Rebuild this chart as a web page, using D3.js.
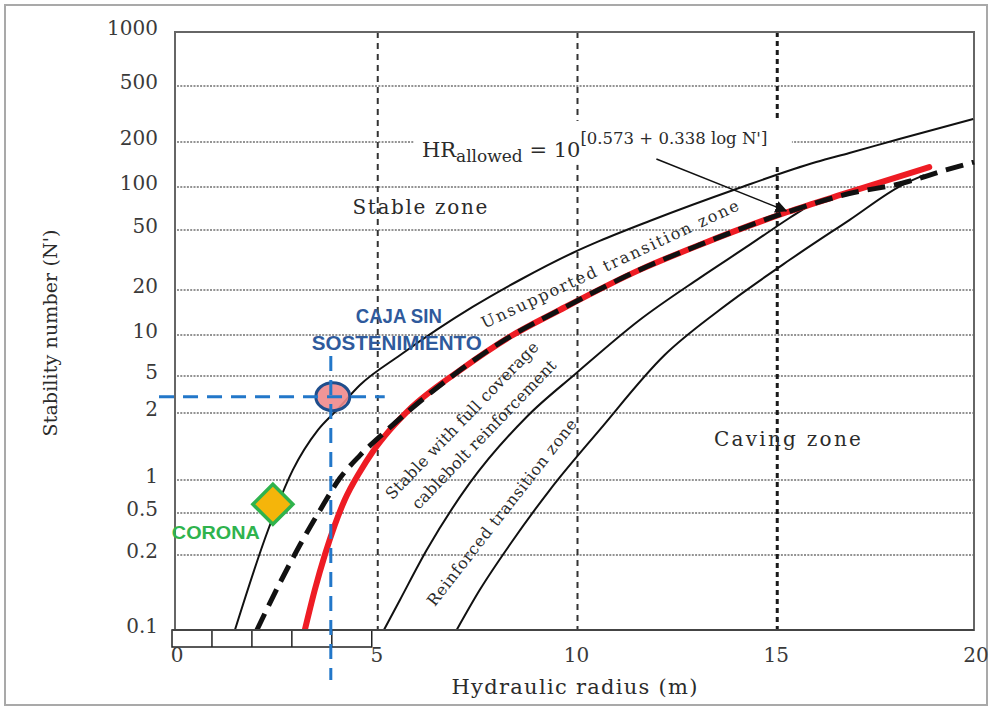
<!DOCTYPE html>
<html>
<head>
<meta charset="utf-8">
<script src="https://cdn.jsdelivr.net/npm/d3@7/dist/d3.min.js"></script>
<style>
html,body{margin:0;padding:0;background:#fff;}
svg{display:block;}
text{font-family:"DejaVu Serif",serif;fill:#2b2b2b;}
</style>
</head>
<body>
<svg id="chart" width="992" height="711"></svg>
<script>
// ================= DATA =================
const yTickValues = [0.1, 0.2, 0.5, 1, 2, 5, 10, 20, 50, 100, 200, 500, 1000];
const yTickLabels = ["0.1", "0.2", "0.5", "1", "2", "5", "10", "20", "50", "100", "200", "500", "1000"];
const xTickValues = [0, 5, 10, 15, 20];
const xTickLabels = ["0", "5", "10", "15", "20"];
const xZoneLines = [5, 10, 15];
const rulerMarks = [0, 1, 2, 3, 4, 5];

// upper limit of the unsupported transition zone
const upperHR = [1.5, 2.33, 2.95, 3.58, 4.05, 4.63, 5.63, 7.45, 8.63, 9.95, 10.63, 11.88, 14.05, 16.05, 16.88, 18.13, 19.98];
const upperN  = [0.1, 0.345, 1.11, 1.68, 2.15, 4.0, 7.1, 15.4, 23.3, 35.2, 42.3, 57.8, 96.8, 147, 169, 210, 291];
// HR allowed curve (black dashed)
const allowedHR = [2.05, 2.63, 3.13, 3.63, 4.13, 4.63, 5.25, 5.85, 7.13, 8.38, 9.63, 11.63, 13.13, 15.33, 16.88, 18.2, 19.3, 20];
const allowedN  = [0.1, 0.155, 0.25, 0.53, 1.02, 1.29, 1.64, 2.1, 5.5, 9.7, 14.7, 27.2, 39.8, 66.8, 90, 106, 130, 147];
// red curve
const redHR = [3.25, 3.5, 3.75, 4.0, 4.25, 4.63, 4.95, 5.38, 5.85, 7.13, 8.38, 9.63, 11.63, 13.13, 15.33, 16.88, 18.88];
const redN  = [0.1, 0.145, 0.2, 0.385, 0.66, 1.09, 1.34, 1.68, 2.15, 5.5, 9.7, 14.7, 27.2, 39.8, 66.8, 92, 136];
// lower limit of stable with cablebolt reinforcement
const cableHR = [5.23, 5.63, 6.3, 7.38, 8.8, 10.05, 11.63, 13.13, 14.38, 15.38, 15.9];
const cableN  = [0.1, 0.132, 0.223, 0.94, 1.92, 5.26, 12.6, 24, 39.8, 60.7, 75];
// lower limit of reinforced transition zone
const reinfHR = [7.05, 7.63, 8.38, 9.38, 10.63, 12.25, 13.63, 15.38, 16.88, 18.2, 18.75];
const reinfN  = [0.1, 0.145, 0.25, 0.81, 1.68, 7.1, 14.7, 31.6, 58.7, 103, 120];

// case points
const cajaHR = 3.9, cajaN = 3;
const coronaHR = 2.45, coronaN = 0.6;
const guideHRExtent = [-0.4, 5.25];   // horizontal blue guide
const guideNTop = 7;                  // vertical blue guide top

// annotations [label, HR, N, angle, textLength]
const zoneLabels = [
  ["Stable zone", 6.13, 71, 0, 135],
  ["Caving zone", 15.33, 1.51, 0, 147],
  ["Unsupported transition zone", 10.9, 29.3, -25, 282],
  ["Stable with full coverage", 7.2, 1.84, -46, 212],
  ["cablebolt reinforcement", 7.75, 1.59, -46, 200],
  ["Reinforced transition zone", 8.2, 0.5, -52, 232]
];
const formulaHR = 6.18, formulaN = 159;
const arrowFrom = [12.05, 154], arrowTo = [15.3, 68];

// ================= LAYOUT =================
const M = {left: 175, right: 974, top: 32, bottom: 630};
// the scanned axis is not perfectly logarithmic: rows of the printed ticks
const yRows = [630, 555, 513, 480, 413, 376, 335, 290, 230, 187, 142, 86, 32];

const svg = d3.select("#chart");
const x = d3.scaleLinear().domain([0, 20]).range([M.left, M.right]);
const y = d3.scaleLog().domain(yTickValues).range(yRows);

// outer frame
svg.append("rect").attr("x", 5).attr("y", 5).attr("width", 982).attr("height", 700)
  .attr("fill", "#fff").attr("stroke", "#a9a9a9").attr("stroke-width", 2);

// horizontal grid
svg.append("g").selectAll("line")
  .data(yTickValues.filter(v => v > 0.1 && v < 1000))
  .join("line")
  .attr("x1", M.left + 2).attr("x2", M.right)
  .attr("y1", d => y(d)).attr("y2", d => y(d))
  .attr("stroke", "#707070").attr("stroke-width", 1.7)
  .attr("stroke-dasharray", "2,1.3");

// vertical zone lines
svg.append("g").selectAll("line")
  .data(xZoneLines)
  .join("line")
  .attr("x1", d => x(d) + 3).attr("x2", d => x(d) + 3)
  .attr("y1", M.top).attr("y2", M.bottom)
  .attr("stroke", d => d === 15 ? "#1a1a1a" : "#333")
  .attr("stroke-width", d => d === 15 ? 3 : 2)
  .attr("stroke-dasharray", d => d === 15 ? "5,4" : "6,5");

// plot frame
svg.append("rect").attr("x", M.left).attr("y", M.top)
  .attr("width", M.right - M.left).attr("height", M.bottom - M.top)
  .attr("fill", "none").attr("stroke", "#666").attr("stroke-width", 2);

// formula background (hides grid behind it)
svg.append("rect").attr("x", x(formulaHR) - 8).attr("y", y(formulaN) - 36)
  .attr("width", 378).attr("height", 44).attr("fill", "#fff");

// curves
const line = d3.line().x(d => x(d[0])).y(d => y(d[1])).curve(d3.curveMonotoneX);
const zip = (a, b) => a.map((v, i) => [v, b[i]]);

const g = svg.append("g").attr("fill", "none");
g.append("path").attr("d", line(zip(upperHR, upperN))).attr("stroke", "#111").attr("stroke-width", 2);
g.append("path").attr("d", line(zip(cableHR, cableN))).attr("stroke", "#111").attr("stroke-width", 2);
g.append("path").attr("d", line(zip(reinfHR, reinfN))).attr("stroke", "#111").attr("stroke-width", 2);
g.append("path").attr("d", line(zip(redHR, redN))).attr("stroke", "#ee1c24").attr("stroke-width", 6)
  .attr("stroke-linecap", "round");
g.append("path").attr("d", line(zip(allowedHR, allowedN))).attr("stroke", "#111").attr("stroke-width", 5)
  .attr("stroke-dasharray", "18,9");

// ruler under the axis
const rulerH = 17;
svg.append("rect").attr("x", x(0) - 3).attr("y", M.bottom)
  .attr("width", x(5) - x(0)).attr("height", rulerH)
  .attr("fill", "#fff").attr("stroke", "#222").attr("stroke-width", 1.5);
svg.append("g").selectAll("line").data(rulerMarks.slice(1, -1)).join("line")
  .attr("x1", d => x(d) - 3).attr("x2", d => x(d) - 3)
  .attr("y1", M.bottom).attr("y2", M.bottom + rulerH)
  .attr("stroke", "#222").attr("stroke-width", 1.5);
svg.append("line").attr("x1", x(0) - 3).attr("x2", M.right).attr("y1", M.bottom).attr("y2", M.bottom)
  .attr("stroke", "#444").attr("stroke-width", 2);

// case: caja sin sostenimiento
svg.append("ellipse").attr("cx", x(cajaHR) + 2).attr("cy", y(cajaN))
  .attr("rx", 17).attr("ry", 14)
  .attr("fill", "#ee8a8c").attr("fill-opacity", 0.9)
  .attr("stroke", "#1f4e8c").attr("stroke-width", 3);
const blue = "#2277c9";
svg.append("line")
  .attr("x1", x(guideHRExtent[0])).attr("x2", x(guideHRExtent[1]))
  .attr("y1", y(cajaN)).attr("y2", y(cajaN))
  .attr("stroke", blue).attr("stroke-width", 3).attr("stroke-dasharray", "15,9");
svg.append("line")
  .attr("x1", x(cajaHR)).attr("x2", x(cajaHR))
  .attr("y1", y(guideNTop)).attr("y2", M.bottom + 50)
  .attr("stroke", blue).attr("stroke-width", 3).attr("stroke-dasharray", "15,9");

svg.append("text").attr("x", x(cajaHR) + 68).attr("y", y(cajaN) - 74)
  .attr("text-anchor", "middle")
  .style("font-family", "'Liberation Sans', Arial, sans-serif").style("font-weight", "bold")
  .style("font-size", "20px").style("fill", "#2f5a9c")
  .attr("textLength", 86).attr("lengthAdjust", "spacingAndGlyphs")
  .text("CAJA SIN");
svg.append("text").attr("x", x(cajaHR) + 66).attr("y", y(cajaN) - 47)
  .attr("text-anchor", "middle")
  .style("font-family", "'Liberation Sans', Arial, sans-serif").style("font-weight", "bold")
  .style("font-size", "20px").style("fill", "#2f5a9c")
  .attr("textLength", 170).attr("lengthAdjust", "spacingAndGlyphs")
  .text("SOSTENIMIENTO");

// case: corona
const dia = 20;
svg.append("path")
  .attr("d", `M${x(coronaHR)},${y(coronaN) - dia} L${x(coronaHR) + dia},${y(coronaN)} L${x(coronaHR)},${y(coronaN) + dia} L${x(coronaHR) - dia},${y(coronaN)} Z`)
  .attr("fill", "#f5b50a").attr("stroke", "#2fb34d").attr("stroke-width", 3.5).attr("stroke-linejoin", "miter");
svg.append("text").attr("x", x(coronaHR) - 57).attr("y", y(coronaN) + 35)
  .attr("text-anchor", "middle")
  .style("font-family", "'Liberation Sans', Arial, sans-serif").style("font-weight", "bold")
  .style("font-size", "18px").style("fill", "#2fb34d")
  .attr("textLength", 88).attr("lengthAdjust", "spacingAndGlyphs")
  .text("CORONA");

// y tick labels
svg.append("g").selectAll("text").data(yTickValues).join("text")
  .attr("x", 158).attr("y", d => y(d) - 3)
  .attr("text-anchor", "end").attr("dominant-baseline", "middle")
  .style("font-size", "20px").style("fill", "#3a3a3a")
  .text((d, i) => yTickLabels[i]);

// x tick labels
svg.append("g").selectAll("text").data(xTickValues).join("text")
  .attr("x", d => x(d) + 2).attr("y", M.bottom + 26)
  .attr("text-anchor", "middle").attr("dominant-baseline", "middle")
  .style("font-size", "20px").style("fill", "#3a3a3a")
  .text((d, i) => xTickLabels[i]);

// axis titles
svg.append("text").attr("x", (M.left + M.right) / 2).attr("y", M.bottom + 58)
  .attr("text-anchor", "middle").attr("dominant-baseline", "middle")
  .style("font-size", "21px").attr("textLength", 246)
  .text("Hydraulic radius (m)");
svg.append("text")
  .attr("transform", `translate(52,${(M.top + M.bottom) / 2 + 2}) rotate(-90)`)
  .attr("text-anchor", "middle").attr("dominant-baseline", "middle")
  .style("font-size", "19px").attr("textLength", 207)
  .text("Stability number (N')");

// zone labels
svg.append("g").selectAll("text").data(zoneLabels).join("text")
  .attr("transform", d => `translate(${x(d[1])},${y(d[2])}) rotate(${d[3]})`)
  .attr("text-anchor", "middle").attr("dominant-baseline", "middle")
  .style("font-size", d => d[3] === 0 ? "20px" : "16px")
  .attr("textLength", d => d[4])
  .text(d => d[0]);

// formula
const f = svg.append("text").attr("x", x(formulaHR)).attr("y", y(formulaN)).style("font-size", "21px");
f.append("tspan").text("HR");
f.append("tspan").attr("dy", 5).style("font-size", "17px").text("allowed");
f.append("tspan").attr("dy", -5).text(" = 10");
f.append("tspan").attr("dy", -13).style("font-size", "16.5px").text("[0.573 + 0.338 log N']");

// arrow
svg.append("defs").append("marker").attr("id", "ah")
  .attr("viewBox", "0 0 10 10").attr("refX", 9).attr("refY", 5)
  .attr("markerWidth", 8).attr("markerHeight", 8).attr("orient", "auto")
  .append("path").attr("d", "M0,0 L10,5 L0,10 Z").attr("fill", "#111");
svg.append("line")
  .attr("x1", x(arrowFrom[0])).attr("y1", y(arrowFrom[1]))
  .attr("x2", x(arrowTo[0])).attr("y2", y(arrowTo[1]))
  .attr("stroke", "#111").attr("stroke-width", 1.5).attr("marker-end", "url(#ah)");
</script>
</body>
</html>
